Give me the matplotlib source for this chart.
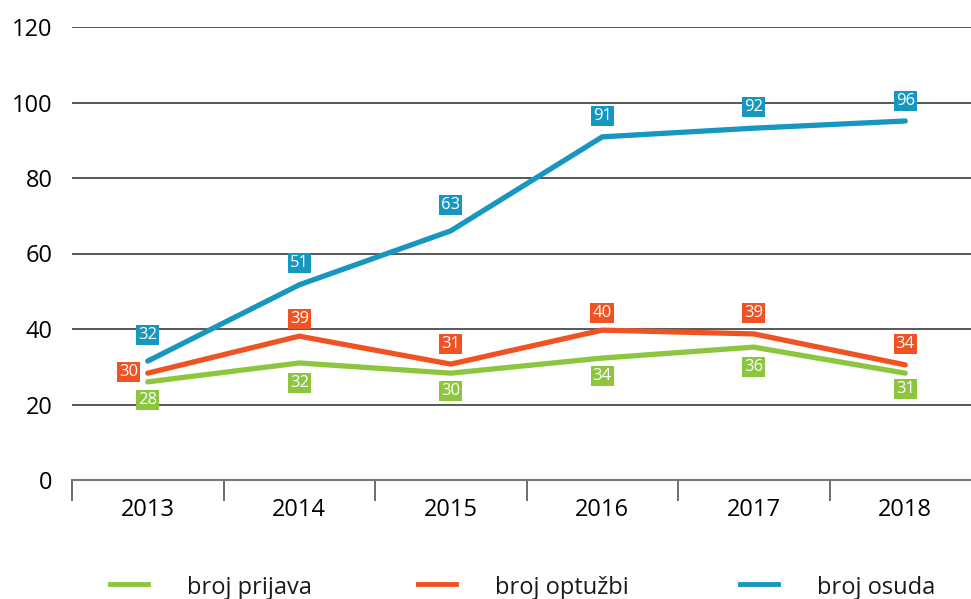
import matplotlib.pyplot as plt
from matplotlib.lines import Line2D

plt.rcParams['font.family'] = ['Open Sans', 'DejaVu Sans']

years = ['2013', '2014', '2015', '2016', '2017', '2018']

# line positions as drawn in the source chart
prijava = [26.0, 31.0, 28.3, 32.3, 35.2, 28.3]
optuzbi = [28.3, 38.1, 30.7, 39.7, 38.7, 30.5]
osuda = [31.5, 51.7, 66.0, 90.9, 93.2, 95.1]

# values printed in the label boxes
prijava_lbl = [28, 32, 30, 34, 36, 31]
optuzbi_lbl = [30, 39, 31, 40, 39, 34]
osuda_lbl = [32, 51, 63, 91, 92, 96]

names = ['broj prijava', 'broj optužbi', 'broj osuda']
colors = ['#8CC63F', '#F05323', '#1797BF']

# label offsets in pixels (dx, dy)
off_prijava = [(0, -18), (0, -20), (0, -18), (0, -18), (0, -20), (0, -16)]
off_optuzbi = [(-19, 1), (0, 17), (0, 20), (0, 17), (0, 21), (0, 21)]
off_osuda = [(0, 26), (0, 22), (0, 26), (0, 21), (0, 21), (0, 20)]

fig = plt.figure(figsize=(9.71, 5.99), dpi=100)
ax = fig.add_axes([72 / 971, 119 / 599, 1 - 72 / 971, 453 / 599])
x = list(range(len(years)))

for v in [20, 40, 60, 80, 100, 120]:
    ax.axhline(v, color='#4a4a4a', lw=1.3, zorder=1)

series = [(prijava, prijava_lbl, off_prijava), (optuzbi, optuzbi_lbl, off_optuzbi),
          (osuda, osuda_lbl, off_osuda)]
for (vals, lbls, offs), c in zip(series, colors):
    ax.plot(x, vals, color=c, lw=3.8, solid_capstyle='round', solid_joinstyle='round', zorder=3)
    for xi, v, l, o in zip(x, vals, lbls, offs):
        ax.annotate(str(l), (xi, v), xytext=o, textcoords='offset pixels', ha='center', va='center',
                    color='white', fontsize=12, zorder=5,
                    bbox=dict(boxstyle='square,pad=0.13', fc=c, ec='none'))

ax.set_xlim(-0.5, -0.5 + 899 / 151.5)
ax.set_ylim(0, 120)
ax.set_yticks([0, 20, 40, 60, 80, 100, 120])
ax.set_xticks(x)
ax.set_xticklabels(years)
ax.set_xticks([i - 0.5 for i in range(6)], minor=True)
ax.tick_params(axis='y', length=0, pad=14, labelsize=17)
ax.tick_params(axis='x', which='major', length=0, pad=13, labelsize=17)
ax.tick_params(axis='x', which='minor', length=15, width=1.2, color='#555555', direction='out')
for s in ['top', 'right', 'left']:
    ax.spines[s].set_visible(False)
ax.spines['bottom'].set_color('#777777')
ax.spines['bottom'].set_linewidth(1.5)

# legend drawn along the bottom edge
handle_x = [110, 418, 740]
text_x = [187, 495, 817]
for hx, tx, n, c in zip(handle_x, text_x, names, colors):
    fig.add_artist(Line2D([hx / 971, (hx + 38) / 971], [15 / 599, 15 / 599], color=c, lw=3.5))
    fig.text(tx / 971, 5 / 599, n, fontsize=17, va='baseline', ha='left', color='#1a1a1a')

fig.savefig('out.png', dpi=100)
